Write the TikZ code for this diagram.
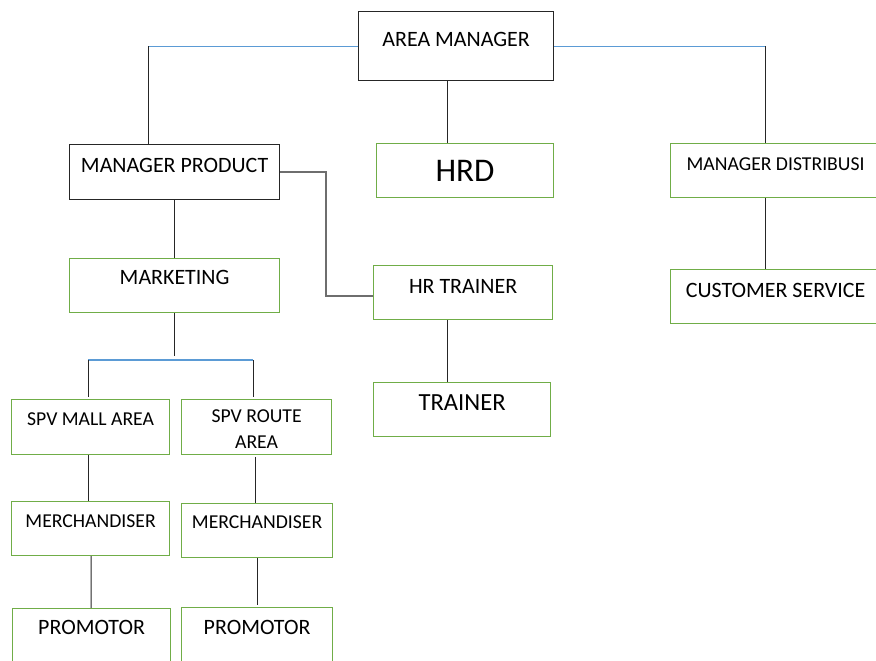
\documentclass[tikz,border=0pt]{standalone}
\usepackage{fontspec}
\setmainfont{Carlito}
\usetikzlibrary{calc}
\definecolor{boxgreen}{RGB}{112,173,71}
\definecolor{tieblue}{RGB}{91,155,213}
\definecolor{linkgray}{RGB}{110,110,110}

\tikzset{
  unit/.style={draw=boxgreen, line width=0.8pt, inner sep=0pt, anchor=north west,
    font=\fontsize{15.6}{18}\selectfont},
  head/.style={unit, draw=black!85},
  small/.style={font=\fontsize{14}{18.5}\selectfont},
  stem/.style={draw=black!85, line width=0.7pt},
  tie/.style={draw=tieblue, line width=0.8pt},
  link/.style={draw=linkgray, line width=1.2pt},
}

\begin{document}
\begin{tikzpicture}[x=0.025cm, y=-0.025cm]
            \clip (0,0) rectangle (876,661);
            % top level
            \node[head, minimum width=4.875cm, minimum height=1.725cm, text height=0.8625cm, text depth=0.8625cm] (area) at (358,11) {AREA MANAGER};
            \node[head, minimum width=5.25cm, minimum height=1.375cm, text height=0.7cm, text depth=0.675cm] (mprod) at (69,144) {MANAGER PRODUCT};
            \node[unit, minimum width=4.425cm, minimum height=1.35cm, text height=0.9375cm, text depth=0.4125cm, font=\fontsize{23.5}{28}\selectfont] (hrd) at (376,143) {HRD};
            \node[unit, small, minimum width=5.25cm, minimum height=1.35cm, text height=0.675cm, text depth=0.675cm] (mdist) at (670,143) {MANAGER DISTRIBUSI};
            \node[unit, minimum width=5.25cm, minimum height=1.35cm, text height=0.7cm, text depth=0.65cm] (cserv) at (670,269) {CUSTOMER SERVICE};
            \node[unit, minimum width=4.475cm, minimum height=1.35cm, text height=0.7cm, text depth=0.65cm] (hrtr) at (373,265) {HR TRAINER};
            \node[unit, minimum width=4.425cm, minimum height=1.35cm, text height=0.7cm, text depth=0.65cm, font=\fontsize{17.5}{21}\selectfont] (trainer) at (373,382) {TRAINER};
            \node[unit, minimum width=5.25cm, minimum height=1.35cm, text height=0.65cm, text depth=0.7cm] (mkt) at (69,258) {MARKETING};
            % supervisors and their teams
            \node[unit, small, minimum width=3.95cm, minimum height=1.375cm, text height=0.65cm, text depth=0.725cm] (spvm) at (11,399) {SPV MALL AREA};
            \node[unit, small, minimum width=3.75cm, minimum height=1.375cm, text height=1.225cm, text depth=0.15cm, align=center] (spvr) at (181,399) {SPV ROUTE\\AREA};
            \node[unit, small, minimum width=3.95cm, minimum height=1.35cm, text height=0.65cm, text depth=0.7cm] (merl) at (11,501) {MERCHANDISER};
            \node[unit, small, minimum width=3.775cm, minimum height=1.35cm, text height=0.625cm, text depth=0.725cm] (merr) at (181,503) {MERCHANDISER};
            \node[unit, minimum width=3.95cm, minimum height=1.35cm, text height=0.65cm, text depth=0.7cm] (proml) at (12,608) {PROMOTOR};
            \node[unit, minimum width=3.775cm, minimum height=1.35cm, text height=0.675cm, text depth=0.675cm] (promr) at (181,607) {PROMOTOR};

            \coordinate (lt) at (148,46);
            \coordinate (rt) at (765,46);
            \coordinate (mid) at (447,0);
            \coordinate (hrjoint) at (326,296);
            \coordinate (split) at (174,356);
            \coordinate (spl) at (88,360);
            \coordinate (spr) at (253,360);
            \coordinate (rcol) at (255,457);
            \draw[tie] (area.west) -- (area.west -| lt);
            \draw[tie] (area.east) -- (area.east -| rt);
            \draw[stem] (area.west -| lt) -- (mprod.north -| lt);
            \draw[stem] (area.east -| rt) -- (mdist.north -| rt);
            \draw[stem] (area.south -| mid) -- (hrd.north -| mid);
            \draw[stem] (mdist.south -| rt) -- (cserv.north -| rt);
            \draw[link] (mprod.east) -| (hrjoint) -- (hrjoint -| hrtr.west);
            \draw[stem] (hrtr.south -| mid) -- (trainer.north -| mid);
            \draw[stem] (mprod.south -| split) -- (mkt.north -| split);
            \draw[stem] (mkt.south -| split) -- (split);
            \draw[tie] (spl) -- (spr);
            \draw[stem] (spl) -- ($(spvm.north -| spl)+(0,-2)$);
            \draw[stem] (spr) -- ($(spvr.north -| spr)+(0,-2)$);
            \draw[stem] (spvm.south -| spl) -- (merl.north -| spl);
            \draw[stem] (rcol) -- (merr.north -| rcol);
            \draw[stem] ($(merl.south)+(0.5,0)$) -- ($(proml.north)+(-0.5,0)$);
            \draw[stem] (merr.south) -- ($(merr.south)+(0,47)$);
            \end{tikzpicture}
\end{document}
